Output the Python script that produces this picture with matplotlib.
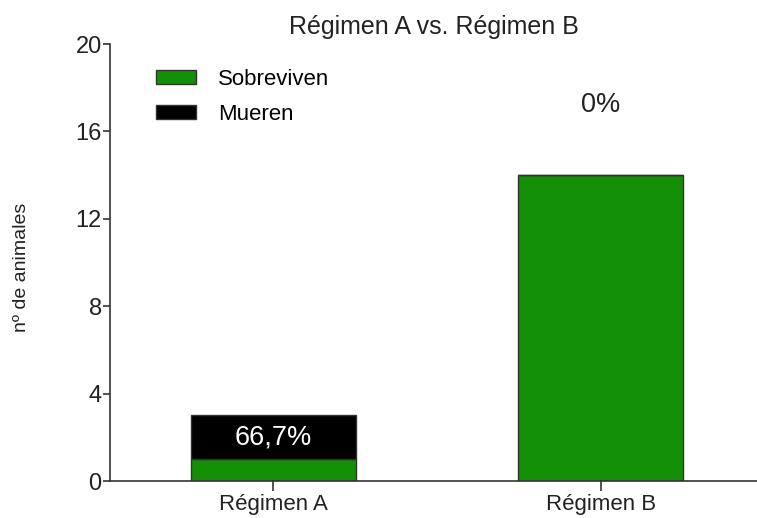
import matplotlib
matplotlib.use("Agg")
import matplotlib.pyplot as plt

plt.rcParams['font.family'] = ['Liberation Sans', 'DejaVu Sans']

groups = ["Régimen A", "Régimen B"]
survive = [1, 14]
die = [2, 0]
pct_labels = ["66,7%", "0%"]
yticks = [0, 4, 8, 12, 16, 20]

green = "#128f04"
fig = plt.figure(figsize=(7.57, 5.18), dpi=100)
ax = fig.add_axes([0.1453, 0.0714, 0.8547, 0.8436])

x = list(range(len(groups)))
ax.bar(x, survive, width=0.504, color=green, edgecolor="#333333", linewidth=1.0,
       label="Sobreviven")
ax.bar(x, die, width=0.504, bottom=survive, color="black", edgecolor="#333333",
       linewidth=1.0, label="Mueren")

# percentage labels: inside the black segment, or above the bar when empty
for xi, s, d, lab in zip(x, survive, die, pct_labels):
    if d > 0:
        ax.text(xi, s + d / 2, lab, color="white", ha="center", va="center", fontsize=19.5)
    else:
        ax.text(xi, 17.2, lab, color="#222222", ha="center", va="center", fontsize=19.5)

ax.set_xlim(-0.499, 1.477)
ax.set_ylim(0, 20)
ax.set_yticks(yticks)
ax.set_xticks(x)
ax.set_xticklabels(groups)
ax.tick_params(axis="both", direction="out", width=1.2, colors="#333333",
               labelcolor="#222222")
ax.tick_params(axis="y", labelsize=17, pad=1, length=5)
ax.tick_params(axis="x", labelsize=16, pad=2, length=7)
for side in ["top", "right"]:
    ax.spines[side].set_visible(False)
for side in ["left", "bottom"]:
    ax.spines[side].set_linewidth(1.2)
    ax.spines[side].set_color("#333333")

ax.set_title("Régimen A vs. Régimen B", fontsize=18, color="#222222", pad=7)
fig.text(0.028, 0.483, "nº de animales", rotation=90, ha="center", va="center",
         fontsize=14, color="#222222")

ax.legend(loc="upper left", bbox_to_anchor=(0.04, 0.988), frameon=False, fontsize=16,
          handlelength=1.8, handleheight=0.6, handletextpad=1.0, labelspacing=0.6)

fig.savefig("out.png", dpi=100)
